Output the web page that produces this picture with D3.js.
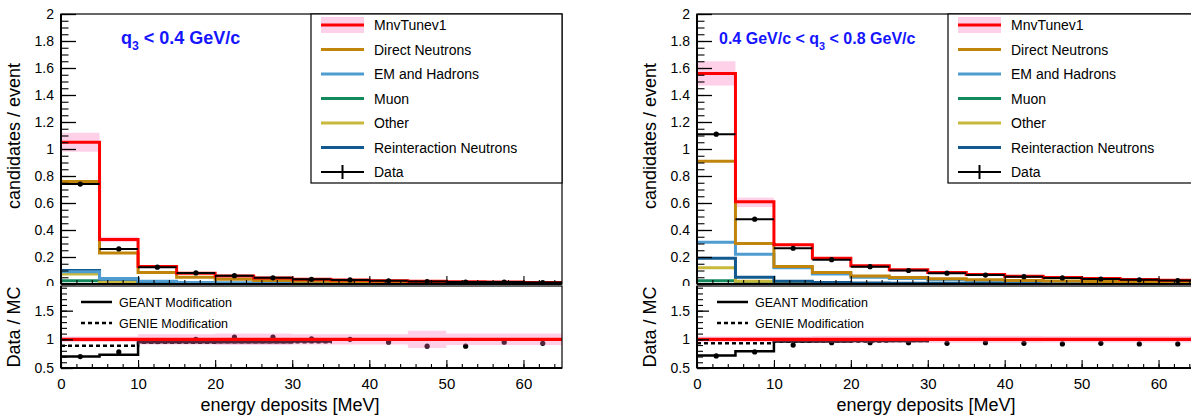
<!DOCTYPE html>
<html><head><meta charset="utf-8">
<script src="https://cdn.jsdelivr.net/npm/d3@7"></script>
<style>body{margin:0;background:#fff}svg{display:block;font-family:"Liberation Sans",Arial,sans-serif}</style>
</head><body>
<svg id="c" width="1191" height="416"></svg>
<script>
// ---------------- DATA ----------------
const binEdges = [0,5,10,15,20,25,30,35,40,45,50,55,60,65];
const legendLabels = ["MnvTunev1","Direct Neutrons","EM and Hadrons","Muon","Other","Reinteraction Neutrons","Data"];
const ratioLegendLabels = ["GEANT Modification","GENIE Modification"];
const yTopTicks = [0,0.2,0.4,0.6,0.8,1,1.2,1.4,1.6,1.8,2];
const yRatioTicks = [0.5,1,1.5];
const xTicks = [0,10,20,30,40,50,60];
const panelTitles = [["q","3"," < 0.4 GeV/c"],["0.4 GeV/c < q","3"," < 0.8 GeV/c"]];

// low q3 panel
const lowMnv      = [1.05,0.33,0.13,0.08,0.06,0.045,0.035,0.03,0.025,0.02,0.017,0.015,0.012];
const lowBandLo   = [0.98,0.31,0.12,0.074,0.055,0.041,0.032,0.027,0.022,0.018,0.015,0.013,0.011];
const lowBandHi   = [1.12,0.35,0.14,0.086,0.065,0.049,0.038,0.033,0.028,0.022,0.019,0.017,0.013];
const lowDirect   = [0.76,0.23,0.085,0.05,0.035,0.026,0.02,0.017,0.014,0.012,0.01,0.009,0.007];
const lowEM       = [0.09,0.04,0.02,0.012,0.009,0.007,0.006,0.005,0.004,0.004,0.003,0.003,0.002];
const lowMuon     = [0.025,0.006,0.003,0.002,0.002,0.001,0.001,0.001,0.001,0.001,0.001,0.001,0.001];
const lowOther    = [0.075,0.012,0.004,0.002,0.002,0.001,0.001,0.001,0.001,0.001,0.001,0.001,0.001];
const lowReint    = [0.1,0.035,0.012,0.006,0.004,0.003,0.003,0.002,0.002,0.002,0.002,0.001,0.001];
const lowData     = [0.74,0.26,0.125,0.082,0.062,0.046,0.035,0.03,0.024,0.018,0.015,0.014,0.011];
const lowDataErr  = [0.012,0.01,0.007,0.005,0.004,0.003,0.003,0.002,0.002,0.002,0.002,0.002,0.002];
const lowRatio    = [0.70,0.78,0.96,1.0,1.04,1.04,1.01,1.0,0.95,0.88,0.88,0.95,0.93];
const lowRatioBandHalf = [0.05,0.05,0.09,0.09,0.1,0.1,0.09,0.09,0.09,0.15,0.1,0.1,0.1];
const lowGeant    = [0.70,0.73,0.95,0.95,0.95,0.95,0.96,1.0,1.0,1.0,1.0,1.0,1.0];
const lowGenie    = [0.89,0.89,0.94,0.94,0.95,0.95,0.95,1.0,1.0,1.0,1.0,1.0,1.0];

// high q3 panel
const highMnv     = [1.56,0.61,0.29,0.19,0.135,0.105,0.085,0.07,0.058,0.048,0.04,0.033,0.028];
const highBandLo  = [1.47,0.57,0.28,0.18,0.128,0.1,0.08,0.066,0.055,0.045,0.038,0.031,0.026];
const highBandHi  = [1.65,0.64,0.30,0.2,0.142,0.11,0.09,0.074,0.061,0.051,0.042,0.035,0.03];
const highDirect  = [0.91,0.30,0.13,0.085,0.06,0.048,0.038,0.032,0.026,0.022,0.018,0.015,0.013];
const highEM      = [0.31,0.22,0.12,0.075,0.05,0.04,0.032,0.026,0.022,0.018,0.015,0.013,0.011];
const highMuon    = [0.025,0.008,0.003,0.002,0.002,0.001,0.001,0.001,0.001,0.001,0.001,0.001,0.001];
const highOther   = [0.12,0.02,0.006,0.003,0.002,0.002,0.001,0.001,0.001,0.001,0.001,0.001,0.001];
const highReint   = [0.19,0.05,0.02,0.012,0.008,0.006,0.005,0.004,0.003,0.003,0.002,0.002,0.002];
const highData    = [1.11,0.48,0.265,0.18,0.128,0.1,0.08,0.066,0.054,0.045,0.037,0.031,0.026];
const highDataErr = [0.015,0.01,0.007,0.005,0.004,0.003,0.003,0.003,0.002,0.002,0.002,0.002,0.002];
const highRatio   = [0.71,0.78,0.90,0.94,0.94,0.94,0.93,0.94,0.93,0.92,0.93,0.92,0.92];
const highRatioBandHalf = [0.05,0.05,0.05,0.06,0.06,0.06,0.06,0.06,0.06,0.055,0.055,0.055,0.055];
const highGeant   = [0.72,0.79,0.96,0.96,0.97,0.97,1.0,1.0,1.0,1.0,1.0,1.0,1.0];
const highGenie   = [0.93,0.93,0.96,0.96,0.96,0.97,1.0,1.0,1.0,1.0,1.0,1.0,1.0];

const colors = {mnv:"#ff0000", band:"#ffd1e8", direct:"#c2850c", em:"#4f9dd0", muon:"#148a5c", other:"#c8b93c", reint:"#11598f", data:"#000"};

const panels = [
  {x0:61, x1:562, legX:311, title:panelTitles[0], titleX:121, titleSize:18,
   mnv:lowMnv, lo:lowBandLo, hi:lowBandHi, direct:lowDirect, em:lowEM, muon:lowMuon, other:lowOther, reint:lowReint,
   data:lowData, err:lowDataErr, ratio:lowRatio, rband:lowRatioBandHalf, geant:lowGeant, genie:lowGenie},
  {x0:697, x1:1197, legX:948, title:panelTitles[1], titleX:719, titleSize:16,
   mnv:highMnv, lo:highBandLo, hi:highBandHi, direct:highDirect, em:highEM, muon:highMuon, other:highOther, reint:highReint,
   data:highData, err:highDataErr, ratio:highRatio, rband:highRatioBandHalf, geant:highGeant, genie:highGenie}
];

// ---------------- DRAW ----------------
const svg = d3.select("#c");
const topY0 = 14, topY1 = 284, rTop = 286, rBot = 368;
const yTop = d3.scaleLinear().domain([0,2]).range([topY1, topY0]);
const yR = d3.scaleLinear().domain([0.5,1.93]).range([rBot, rTop]);

function stepPath(x, y, vals){
  const pts = vals.map((v,i)=>[binEdges[i], v]);
  pts.push([binEdges[binEdges.length-1], vals[vals.length-1]]);
  return d3.line().x(d=>x(d[0])).y(d=>y(d[1])).curve(d3.curveStepAfter)(pts);
}

panels.forEach((p, pi) => {
  const x = d3.scaleLinear().domain([0,65]).range([p.x0, p.x1]);
  const bins = p.mnv.map((v,i)=>({i, lo:binEdges[i], hi:binEdges[i+1], c:(binEdges[i]+binEdges[i+1])/2}));
  const g = svg.append("g");
  const clipT = "clipT"+pi, clipR = "clipR"+pi;
  svg.append("clipPath").attr("id",clipT).append("rect").attr("x",p.x0).attr("y",topY0).attr("width",p.x1-p.x0).attr("height",topY1-topY0);
  svg.append("clipPath").attr("id",clipR).append("rect").attr("x",p.x0).attr("y",rTop).attr("width",p.x1-p.x0).attr("height",rBot-rTop);

  // ---- top pad ----
  const gt = g.append("g").attr("clip-path",`url(#${clipT})`);
  gt.selectAll("rect.band").data(bins).join("rect")
    .attr("x",d=>x(d.lo)).attr("width",d=>x(d.hi)-x(d.lo))
    .attr("y",d=>yTop(p.hi[d.i])).attr("height",d=>yTop(p.lo[d.i])-yTop(p.hi[d.i]))
    .attr("fill",colors.band);
  [["muon",p.muon],["other",p.other],["reint",p.reint],["em",p.em],["direct",p.direct]].forEach(([k,vals])=>{
    gt.append("path").attr("d",stepPath(x,yTop,vals)).attr("fill","none").attr("stroke",colors[k]).attr("stroke-width",3);
  });
  gt.append("path").attr("d",stepPath(x,yTop,p.mnv)).attr("fill","none").attr("stroke",colors.mnv).attr("stroke-width",3);
  // data
  gt.selectAll("line.dh").data(bins).join("line")
    .attr("x1",d=>x(d.lo)).attr("x2",d=>x(d.hi)).attr("y1",d=>yTop(p.data[d.i])).attr("y2",d=>yTop(p.data[d.i]))
    .attr("stroke","#000").attr("stroke-width",2);
  gt.selectAll("line.dv").data(bins).join("line")
    .attr("x1",d=>x(d.c)).attr("x2",d=>x(d.c)).attr("y1",d=>yTop(p.data[d.i]-p.err[d.i])).attr("y2",d=>yTop(p.data[d.i]+p.err[d.i]))
    .attr("stroke","#000").attr("stroke-width",2);
  gt.selectAll("circle.dp").data(bins).join("circle")
    .attr("cx",d=>x(d.c)).attr("cy",d=>yTop(p.data[d.i])).attr("r",2.6).attr("fill","#000");

  // top axes ticks
  const ayMaj = d3.axisLeft(yTop).tickValues(yTopTicks).tickSize(-15).tickSizeOuter(0).tickPadding(7).tickFormat(d3.format("~g"));
  const ayg = g.append("g").attr("transform",`translate(${p.x0},0)`).call(ayMaj);
  ayg.select(".domain").remove();
  ayg.selectAll("text").attr("font-size",14).attr("fill","#000");
  ayg.selectAll("line").attr("stroke","#000").attr("stroke-width",1.3);
  const ayMin = d3.axisLeft(yTop).tickValues(d3.range(0,2.001,0.05)).tickSize(-7.5).tickSizeOuter(0).tickFormat("");
  const aym = g.append("g").attr("transform",`translate(${p.x0},0)`).call(ayMin);
  aym.select(".domain").remove(); aym.selectAll("line").attr("stroke","#000").attr("stroke-width",1.1);
  const axT = d3.axisBottom(x).tickValues(xTicks).tickSize(-8).tickSizeOuter(0).tickFormat("");
  const axtg = g.append("g").attr("transform",`translate(0,${topY1})`).call(axT);
  axtg.select(".domain").remove(); axtg.selectAll("line").attr("stroke","#000").attr("stroke-width",1.1);
  const axTm = d3.axisBottom(x).tickValues(d3.range(0,65,2)).tickSize(-4).tickSizeOuter(0).tickFormat("");
  const axtm = g.append("g").attr("transform",`translate(0,${topY1})`).call(axTm);
  axtm.select(".domain").remove(); axtm.selectAll("line").attr("stroke","#000").attr("stroke-width",1.1);

  // frame top
  g.append("rect").attr("x",p.x0).attr("y",topY0).attr("width",p.x1-p.x0).attr("height",topY1-topY0)
    .attr("fill","none").attr("stroke","#000").attr("stroke-width",1.2);
  g.append("line").attr("x1",p.x0).attr("x2",p.x0).attr("y1",topY0).attr("y2",topY1).attr("stroke","#000").attr("stroke-width",2);
  g.append("line").attr("x1",p.x0).attr("x2",p.x1).attr("y1",topY1).attr("y2",topY1).attr("stroke","#000").attr("stroke-width",2);

  // panel title
  const tt = g.append("text").attr("x",p.titleX).attr("y",44).attr("fill","#1515ff").attr("font-weight","bold").attr("font-size",p.titleSize);
  tt.append("tspan").text(p.title[0]);
  tt.append("tspan").attr("font-size",p.titleSize*0.68).attr("dy",6).text(p.title[1]);
  tt.append("tspan").attr("dy",-6).text(p.title[2]);

  // legend
  const lg = g.append("g");
  const legW = p.x1 - p.legX;
  lg.append("rect").attr("x",p.legX).attr("y",topY0).attr("width",legW).attr("height",183-topY0)
    .attr("fill","#fff").attr("stroke","#000").attr("stroke-width",1.2);
  const legKeys = ["mnv","direct","em","muon","other","reint","data"];
  const ly = d3.scalePoint().domain(legendLabels).range([25,172]);
  legendLabels.forEach((lab,i)=>{
    const yy = ly(lab), k = legKeys[i];
    const lx0 = p.legX+10, lx1 = p.legX+53;
    if(k==="mnv") lg.append("rect").attr("x",lx0).attr("y",yy-8).attr("width",lx1-lx0).attr("height",16).attr("fill",colors.band);
    lg.append("line").attr("x1",lx0).attr("x2",lx1).attr("y1",yy).attr("y2",yy).attr("stroke",colors[k]).attr("stroke-width",k==="data"?2:3);
    if(k==="data") lg.append("line").attr("x1",(lx0+lx1)/2).attr("x2",(lx0+lx1)/2).attr("y1",yy-7).attr("y2",yy+7).attr("stroke","#000").attr("stroke-width",2);
    lg.append("text").attr("x",p.legX+63).attr("y",yy+5).attr("font-size",14).attr("fill","#000").text(lab);
  });

  // y title top
  g.append("text").attr("transform",`translate(${p.x0-41},${(topY0+topY1)/2-13}) rotate(-90)`)
    .attr("text-anchor","middle").attr("font-size",18).attr("fill","#000").text("candidates / event");

  // ---- ratio pad ----
  g.append("rect").attr("x",p.x0-60).attr("y",rTop).attr("width",p.x1-p.x0+60).attr("height",416-rTop).attr("fill","#fff");
  const gr = g.append("g").attr("clip-path",`url(#${clipR})`);
  gr.append("path").attr("d",stepPath(x,yR,p.geant)).attr("fill","none").attr("stroke","#000").attr("stroke-width",2.5);
  gr.append("path").attr("d",stepPath(x,yR,p.genie)).attr("fill","none").attr("stroke","#000").attr("stroke-width",2.5).attr("stroke-dasharray","4,3");
  gr.selectAll("circle.rp").data(bins).join("circle")
    .attr("cx",d=>x(d.c)).attr("cy",d=>yR(p.ratio[d.i])).attr("r",2.6).attr("fill","#000");
  gr.selectAll("rect.rb").data(bins).join("rect")
    .attr("x",d=>x(d.lo)).attr("width",d=>x(d.hi)-x(d.lo))
    .attr("y",d=>yR(1+p.rband[d.i])).attr("height",d=>yR(1-p.rband[d.i])-yR(1+p.rband[d.i]))
    .attr("fill","#ff6db8").attr("opacity",0.33);
  gr.append("path").attr("d",stepPath(x,yR,p.mnv.map(()=>1))).attr("fill","none").attr("stroke",colors.mnv).attr("stroke-width",3.2);

  const ryMaj = d3.axisLeft(yR).tickValues(yRatioTicks).tickSize(-12).tickSizeOuter(0).tickPadding(7).tickFormat(d3.format("~g"));
  const ryg = g.append("g").attr("transform",`translate(${p.x0},0)`).call(ryMaj);
  ryg.select(".domain").remove();
  ryg.selectAll("text").attr("font-size",14).attr("fill","#000");
  ryg.selectAll("line").attr("stroke","#000").attr("stroke-width",1.3);
  const ryMin = d3.axisLeft(yR).tickValues(d3.range(0.5,1.93,0.1)).tickSize(-6).tickSizeOuter(0).tickFormat("");
  const rym = g.append("g").attr("transform",`translate(${p.x0},0)`).call(ryMin);
  rym.select(".domain").remove(); rym.selectAll("line").attr("stroke","#000").attr("stroke-width",1.1);
  const axR = d3.axisBottom(x).tickValues(xTicks).tickSize(-8).tickSizeOuter(0).tickPadding(6).tickFormat(d3.format("d"));
  const axrg = g.append("g").attr("transform",`translate(0,${rBot})`).call(axR);
  axrg.select(".domain").remove(); axrg.selectAll("line").attr("stroke","#000").attr("stroke-width",1.1);
  axrg.selectAll("text").attr("font-size",15).attr("fill","#000").attr("dy","1.0em");
  const axRm = d3.axisBottom(x).tickValues(d3.range(0,65,2)).tickSize(-4).tickSizeOuter(0).tickFormat("");
  const axrm = g.append("g").attr("transform",`translate(0,${rBot})`).call(axRm);
  axrm.select(".domain").remove(); axrm.selectAll("line").attr("stroke","#000").attr("stroke-width",1.1);

  g.append("rect").attr("x",p.x0).attr("y",rTop).attr("width",p.x1-p.x0).attr("height",rBot-rTop)
    .attr("fill","none").attr("stroke","#000").attr("stroke-width",1.2);
  g.append("line").attr("x1",p.x0).attr("x2",p.x0).attr("y1",rTop).attr("y2",rBot).attr("stroke","#000").attr("stroke-width",2);
  g.append("line").attr("x1",p.x0).attr("x2",p.x1).attr("y1",rBot).attr("y2",rBot).attr("stroke","#000").attr("stroke-width",2);

  // ratio legend
  const rly = d3.scalePoint().domain(ratioLegendLabels).range([302,323]);
  ratioLegendLabels.forEach((lab,i)=>{
    const yy = rly(lab);
    g.append("line").attr("x1",p.x0+20).attr("x2",p.x0+51).attr("y1",yy).attr("y2",yy)
      .attr("stroke","#000").attr("stroke-width",2.5).attr("stroke-dasharray",i===1?"4,3":null);
    g.append("text").attr("x",p.x0+58).attr("y",yy+4.5).attr("font-size",12.5).attr("fill","#000").text(lab);
  });

  g.append("text").attr("transform",`translate(${p.x0-41},${(rTop+rBot)/2}) rotate(-90)`)
    .attr("text-anchor","middle").attr("font-size",18).attr("fill","#000").text("Data / MC");
  g.append("text").attr("x",p.x0+229).attr("y",411).attr("text-anchor","middle").attr("font-size",18).attr("fill","#000").text("energy deposits [MeV]");
});
</script>
</body></html>
